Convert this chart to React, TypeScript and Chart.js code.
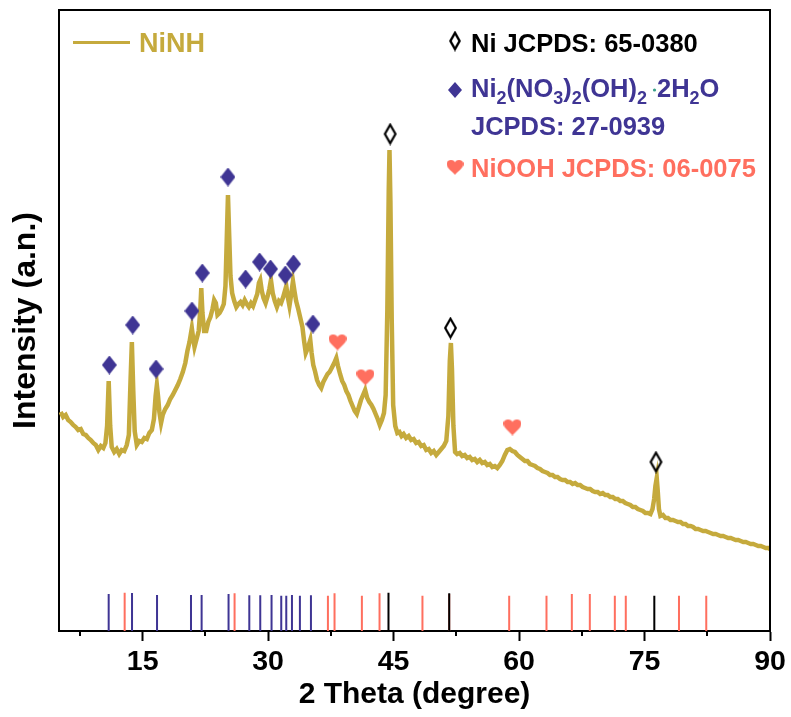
import React, { useEffect, useRef } from "react";
import { Chart, registerables } from "chart.js";

Chart.register(...registerables);

// ---------- data ----------
const twoTheta = [
  5.2, 5.5, 5.8, 6.1, 6.4, 6.7, 7.0, 7.3, 7.6, 7.9, 8.2, 8.5, 8.8, 9.1, 9.4, 9.7, 10.0, 10.3, 10.55, 10.75,
  10.94, 11.12, 11.3, 11.6, 11.9, 12.2, 12.5, 12.8, 13.1, 13.35, 13.55, 13.71, 13.88, 14.05, 14.3, 14.6, 14.9, 15.2, 15.5, 15.8,
  16.1, 16.35, 16.55, 16.7, 16.85, 17.0, 17.2, 17.4, 17.7, 18.0, 18.3, 18.6, 18.9, 19.2, 19.5, 19.8, 20.1, 20.35, 20.6, 20.88,
  21.05, 21.2, 21.45, 21.7, 21.88, 22.01, 22.15, 22.35, 22.6, 22.85, 23.1, 23.35, 23.55, 23.75, 23.95, 24.2, 24.45, 24.7, 24.9, 25.05,
  25.2, 25.35, 25.5, 25.7, 25.95, 26.2, 26.45, 26.7, 26.95, 27.2, 27.45, 27.7, 27.95, 28.2, 28.45, 28.7, 28.9, 29.06, 29.25, 29.45,
  29.7, 29.95, 30.15, 30.34, 30.55, 30.8, 31.05, 31.3, 31.55, 31.8, 32.0, 32.17, 32.35, 32.55, 32.75, 32.97, 33.15, 33.35, 33.6, 33.85,
  34.1, 34.3, 34.5, 34.75, 35.04, 35.2, 35.4, 35.6, 35.85, 36.1, 36.35, 36.6, 36.85, 37.1, 37.35, 37.6, 37.9, 38.15, 38.35, 38.6,
  38.85, 39.1, 39.35, 39.6, 39.85, 40.1, 40.35, 40.6, 40.85, 41.1, 41.35, 41.6, 41.85, 42.1, 42.35, 42.6, 42.85, 43.1, 43.35, 43.6,
  43.85, 44.05, 44.25, 44.42, 44.51, 44.62, 44.78, 44.95, 45.2, 45.45, 45.7, 45.95, 46.2, 46.5, 46.8, 47.1, 47.4, 47.7, 48.0, 48.3,
  48.6, 48.9, 49.2, 49.5, 49.8, 50.1, 50.4, 50.7, 51.0, 51.3, 51.55, 51.72, 51.85, 51.98, 52.15, 52.35, 52.6, 52.9, 53.2, 53.5,
  53.8, 54.1, 54.4, 54.7, 55.0, 55.3, 55.6, 55.9, 56.2, 56.5, 56.8, 57.1, 57.4, 57.7, 58.0, 58.3, 58.6, 58.9, 59.2, 59.5,
  59.8, 60.1, 60.4, 60.7, 61.0, 61.3, 61.6, 61.9, 62.2, 62.5, 62.8, 63.1, 63.4, 63.7, 64.0, 64.3, 64.6, 64.9, 65.2, 65.5,
  65.8, 66.1, 66.4, 66.7, 67.0, 67.3, 67.6, 67.9, 68.2, 68.5, 68.8, 69.1, 69.4, 69.7, 70.0, 70.3, 70.6, 70.9, 71.2, 71.5,
  71.8, 72.1, 72.4, 72.7, 73.0, 73.3, 73.6, 73.9, 74.2, 74.5, 74.8, 75.1, 75.4, 75.7, 75.95, 76.15, 76.3, 76.46, 76.58, 76.72,
  76.9, 77.2, 77.5, 77.8, 78.1, 78.4, 78.7, 79.0, 79.3, 79.6, 79.9, 80.2, 80.5, 80.8, 81.1, 81.4, 81.7, 82.0, 82.3, 82.6,
  82.9, 83.2, 83.5, 83.8, 84.1, 84.4, 84.7, 85.0, 85.3, 85.6, 85.9, 86.2, 86.5, 86.8, 87.1, 87.4, 87.7, 88.0, 88.3, 88.6,
  88.9, 89.2, 89.5, 89.8, 90.0,
];
const intensity = [
  219, 214, 216, 211, 209, 206, 204, 201, 202, 197, 196, 193, 191, 188, 186, 181, 185, 183, 188, 205,
  250, 205, 184, 179, 182, 177, 181, 180, 186, 196, 250, 289, 240, 200, 186, 190, 189, 193, 192, 198,
  201, 212, 235, 246, 234, 219, 208, 216, 222, 226, 232, 236, 241, 246, 252, 259, 268, 280, 289, 303,
  292, 284, 292, 300, 320, 343, 318, 300, 300, 309, 314, 322, 331, 328, 316, 318, 322, 327, 345, 390,
  436, 395, 355, 338, 330, 324, 327, 329, 326, 331, 327, 324, 328, 325, 331, 337, 348, 351, 340, 333,
  328, 335, 342, 351, 338, 330, 324, 330, 328, 334, 340, 345, 334, 325, 336, 350, 340, 330, 322, 313,
  304, 290, 278, 283, 291, 278, 266, 260, 251, 246, 243, 249, 253, 257, 259, 263, 268, 273, 265, 257,
  250, 246, 240, 236, 230, 225, 220, 217, 224, 231, 236, 241, 233, 229, 226, 222, 217, 212, 206, 211,
  218, 236, 320, 440, 481, 430, 310, 226, 205, 198, 199, 195, 197, 193, 195, 191, 192, 188, 189, 185,
  186, 181, 182, 178, 180, 176, 179, 182, 185, 190, 215, 270, 288, 262, 205, 179, 177, 178, 175, 176,
  173, 174, 171, 172, 169, 171, 168, 169, 166, 167, 164, 165, 163, 166, 170, 176, 181, 182, 180, 179,
  176, 174, 172, 170, 170, 167, 166, 165, 163, 162, 160, 159, 158, 156, 156, 154, 154, 152, 151, 151,
  149, 149, 147, 148, 146, 146, 144, 143, 142, 142, 140, 139, 139, 137, 138, 136, 136, 134, 134, 132,
  132, 130, 130, 128, 127, 126, 124, 124, 122, 121, 120, 118, 118, 117, 122, 132, 145, 153, 140, 122,
  115, 116, 113, 113, 111, 111, 110, 109, 109, 107, 107, 105, 105, 104, 102, 102, 101, 100, 100, 99,
  98, 97, 97, 96, 95, 95, 94, 93, 93, 92, 91, 91, 90, 89, 89, 88, 87, 87, 86, 85,
  85, 84, 83, 83, 82,
];

// reference (JCPDS) stick positions and heights
const niohPos = [10.94, 13.73, 16.72, 20.78, 22.05, 25.27, 27.75, 29.06, 30.41, 31.57, 32.17, 32.85, 33.8, 35.12];
const niohHt = [37, 38, 36, 36, 36, 37, 35.7, 35.7, 36, 35.3, 35.3, 36, 35.3, 35.7];
const niooPos = [12.85, 25.99, 37.15, 37.94, 41.21, 43.32, 48.45, 51.65, 58.82, 63.28, 66.31, 68.46, 71.45, 72.76, 79.12, 82.38];
const niooHt = [38.3, 37.7, 35.3, 37.7, 35.3, 37.7, 35.3, 37, 35.3, 35.3, 37, 37, 35.3, 35.3, 35.3, 35.3];
const niPos = [44.39, 51.65, 76.17];
const niHt = [38.3, 37.7, 35.3];

// peak markers
const markNiohX = [11.02, 13.81, 16.6, 20.9, 22.13, 25.2, 27.31, 28.98, 30.29, 32.05, 33.04, 35.36];
const markNiohY = [266, 306, 262, 320, 358, 454, 352, 369, 362, 356, 367, 307];
const markNioohX = [38.3, 41.64, 59.21];
const markNioohY = [289, 254, 204];
const markNiX = [44.59, 51.8, 76.37];
const markNiY = [497, 303, 169];

const xMajorTicks = [15, 30, 45, 60, 75, 90];
const xMinorTicks = [7.5, 22.5, 37.5, 52.5, 67.5, 82.5];

// ---------- styles ----------
const GOLD = "#C5AA3D";
const BLUE = "#3F3594";
const SALMON = "#FF6F5F";
const TEAL = "#3AA08A";
const FONT = '"Liberation Sans", Arial, Helvetica, sans-serif';

function makeCanvas(w: number, h: number) {
  const c = document.createElement("canvas");
  c.width = w;
  c.height = h;
  return c;
}

function filledDiamond(w: number, h: number) {
  const c = makeCanvas(w, h);
  const ctx = c.getContext("2d")!;
  ctx.fillStyle = BLUE;
  ctx.beginPath();
  ctx.moveTo(w / 2, 0);
  ctx.lineTo(w, h / 2);
  ctx.lineTo(w / 2, h);
  ctx.lineTo(0, h / 2);
  ctx.closePath();
  ctx.fill();
  return c;
}

function openDiamond(w: number, h: number, lw: number) {
  const c = makeCanvas(w, h);
  const ctx = c.getContext("2d")!;
  ctx.strokeStyle = "#000";
  ctx.lineWidth = lw;
  ctx.lineJoin = "miter";
  const p = lw;
  ctx.beginPath();
  ctx.moveTo(w / 2, p);
  ctx.lineTo(w - p, h / 2);
  ctx.lineTo(w / 2, h - p);
  ctx.lineTo(p, h / 2);
  ctx.closePath();
  ctx.stroke();
  return c;
}

function heart(w: number, h: number) {
  const c = makeCanvas(w, h);
  const ctx = c.getContext("2d")!;
  ctx.fillStyle = SALMON;
  const cx = w / 2;
  const top = 0;
  const bot = h;
  ctx.beginPath();
  ctx.moveTo(cx, bot);
  ctx.bezierCurveTo(cx - w * 0.12, bot - h * 0.18, 0, top + h * 0.58, 0, top + h * 0.3);
  ctx.bezierCurveTo(0, top + h * 0.02, cx - w * 0.06, top - h * 0.02, cx, top + h * 0.22);
  ctx.bezierCurveTo(cx + w * 0.06, top - h * 0.02, w, top + h * 0.02, w, top + h * 0.3);
  ctx.bezierCurveTo(w, top + h * 0.58, cx + w * 0.12, bot - h * 0.18, cx, bot);
  ctx.closePath();
  ctx.fill();
  return c;
}

function sticks(pos: number[], ht: number[]) {
  const out: { x: number; y: number | null }[] = [];
  pos.forEach((p, i) => {
    out.push({ x: p, y: 0 }, { x: p, y: ht[i] }, { x: p, y: null });
  });
  return out;
}

export default function App() {
  const ref = useRef<HTMLCanvasElement | null>(null);

  useEffect(() => {
    document.body.style.margin = "0";
    document.body.style.overflow = "hidden";
    const canvas = ref.current!;
    const imgDiamond = filledDiamond(15, 19);
    const imgOpen = openDiamond(15, 23, 2.2);
    const imgHeart = heart(18, 17);
    const legDiamond = filledDiamond(14, 16);
    const legOpen = openDiamond(14, 21, 2.4);
    const legHeart = heart(17, 16);

    const decor = {
      id: "decor",
      afterDraw(chart: any) {
        const ctx = chart.ctx as CanvasRenderingContext2D;
        const { left, right, top, bottom } = chart.chartArea;
        const xs = chart.scales.x;
        ctx.save();
        // frame (top, right)
        ctx.strokeStyle = "#000";
        ctx.lineWidth = 2;
        ctx.beginPath();
        ctx.moveTo(left - 1, top);
        ctx.lineTo(right, top);
        ctx.lineTo(right, bottom + 1);
        ctx.stroke();
        // minor ticks
        xMinorTicks.forEach((v) => {
          const px = Math.round(xs.getPixelForValue(v));
          ctx.beginPath();
          ctx.moveTo(px, bottom);
          ctx.lineTo(px, bottom + 5);
          ctx.stroke();
        });

        // legend: NiNH
        ctx.textAlign = "left";
        ctx.textBaseline = "alphabetic";
        ctx.strokeStyle = GOLD;
        ctx.lineWidth = 3;
        ctx.beginPath();
        ctx.moveTo(73, 42.5);
        ctx.lineTo(130, 42.5);
        ctx.stroke();
        ctx.fillStyle = GOLD;
        ctx.font = `bold 27px ${FONT}`;
        ctx.fillText("NiNH", 139, 52);

        // legend right
        const big = `bold 25.5px ${FONT}`;
        const small = `bold 18px ${FONT}`;
        ctx.drawImage(legOpen, 455 - legOpen.width / 2, 41 - legOpen.height / 2);
        ctx.fillStyle = "#000";
        ctx.font = big;
        ctx.fillText("Ni JCPDS: 65-0380", 471, 52);

        ctx.drawImage(legDiamond, 455 - legDiamond.width / 2, 90 - legDiamond.height / 2);
        ctx.fillStyle = BLUE;
        let x = 471;
        const seq1: [string, boolean][] = [
          ["Ni", false], ["2", true], ["(NO", false], ["3", true], [")", false], ["2", true], ["(OH)", false], ["2", true],
        ];
        const drawSeq = (seq: [string, boolean][]) => {
          seq.forEach(([t, sub]) => {
            ctx.font = sub ? small : big;
            ctx.fillText(t, x, sub ? 104 : 97);
            x += ctx.measureText(t).width;
          });
        };
        drawSeq(seq1);
        x += 6;
        ctx.fillStyle = TEAL;
        ctx.beginPath();
        ctx.arc(x + 1.5, 90, 1.6, 0, Math.PI * 2);
        ctx.fill();
        x += 4;
        ctx.fillStyle = BLUE;
        drawSeq([["2H", false], ["2", true], ["O", false]]);
        ctx.font = big;
        ctx.fillText("JCPDS: 27-0939", 471, 135);

        ctx.drawImage(legHeart, 455 - legHeart.width / 2, 167 - legHeart.height / 2);
        ctx.fillStyle = SALMON;
        ctx.fillText("NiOOH JCPDS: 06-0075", 471, 177);
        ctx.restore();
      },
    };

    const chart = new Chart(canvas, {
      type: "scatter",
      data: {
        datasets: [
          {
            label: "NiNH",
            type: "line",
            data: twoTheta.map((t, i) => ({ x: t, y: intensity[i] })),
            borderColor: GOLD,
            borderWidth: 4.5,
            pointRadius: 0,
            tension: 0,
            order: 2,
          } as any,
          {
            label: "Ni(OH) sticks",
            type: "line",
            data: sticks(niohPos, niohHt),
            borderColor: BLUE,
            borderWidth: 2,
            pointRadius: 0,
            spanGaps: false,
            order: 5,
          },
          {
            label: "NiOOH sticks",
            type: "line",
            data: sticks(niooPos, niooHt),
            borderColor: SALMON,
            borderWidth: 2,
            pointRadius: 0,
            spanGaps: false,
            order: 4,
          },
          {
            label: "Ni sticks",
            type: "line",
            data: sticks(niPos, niHt),
            borderColor: "#000",
            borderWidth: 2,
            pointRadius: 0,
            spanGaps: false,
            order: 3,
          },
          {
            label: "Ni2(NO3)2(OH)2 marks",
            data: markNiohX.map((v, i) => ({ x: v, y: markNiohY[i] })),
            pointStyle: imgDiamond,
            pointRadius: 9,
            showLine: false,
            order: 1,
          },
          {
            label: "NiOOH marks",
            data: markNioohX.map((v, i) => ({ x: v, y: markNioohY[i] })),
            pointStyle: imgHeart,
            pointRadius: 9,
            showLine: false,
            order: 1,
          },
          {
            label: "Ni marks",
            data: markNiX.map((v, i) => ({ x: v, y: markNiY[i] })),
            pointStyle: imgOpen,
            pointRadius: 9,
            showLine: false,
            order: 0,
          },
        ],
      },
      options: {
        animation: false,
        responsive: false,
        devicePixelRatio: 1,
        layout: { padding: { left: 0, right: 21, top: 10, bottom: 0 } },
        plugins: { legend: { display: false }, tooltip: { enabled: false } },
        events: [],
        scales: {
          x: {
            type: "linear",
            min: 5,
            max: 90,
            afterBuildTicks: (s: any) => {
              s.ticks = xMajorTicks.map((v) => ({ value: v }));
            },
            afterFit: (s: any) => {
              s.height = 86;
            },
            ticks: {
              color: "#000",
              font: { family: FONT, size: 28.5, weight: "bold" },
              padding: 4,
              maxRotation: 0,
              autoSkip: false,
            },
            grid: { drawOnChartArea: false, drawTicks: true, tickLength: 10, tickWidth: 2, tickColor: "#000" },
            border: { display: true, color: "#000", width: 2 },
            title: {
              display: true,
              text: "2 Theta (degree)",
              color: "#000",
              font: { family: FONT, size: 30, weight: "bold" },
              padding: { top: 0, bottom: 4 },
            },
          },
          y: {
            type: "linear",
            min: 0,
            max: 621,
            afterFit: (s: any) => {
              s.width = 59;
            },
            ticks: { display: false },
            grid: { drawOnChartArea: false, drawTicks: false },
            border: { display: true, color: "#000", width: 2 },
            title: {
              display: true,
              text: "Intensity (a.n.)",
              color: "#000",
              font: { family: FONT, size: 32, weight: "bold" },
              padding: { top: 7, bottom: 0 },
            },
          },
        },
      },
      plugins: [decor],
    } as any);
    return () => chart.destroy();
  }, []);

  return (
    <div style={{ width: 791, height: 717, background: "#fff" }}>
      <canvas ref={ref} width={791} height={717} style={{ display: "block", width: 791, height: 717 }} />
    </div>
  );
}
